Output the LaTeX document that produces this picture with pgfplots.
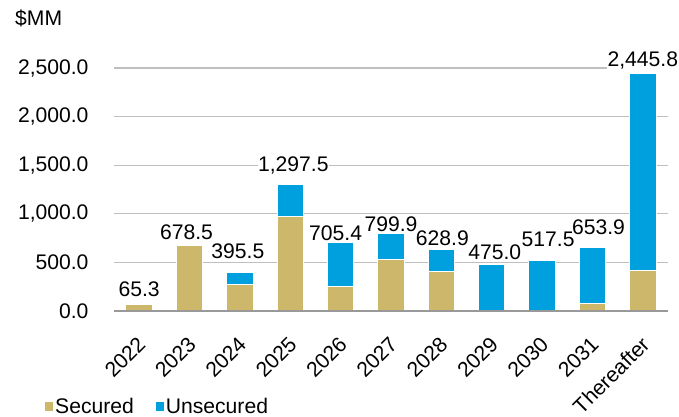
\documentclass[border=0pt]{standalone}
\usepackage{pgfplots}
\pgfplotsset{compat=1.18}
\usepackage{pgfplotstable}
\usepackage{fontspec}
\setmainfont{Liberation Sans}
\definecolor{sec}{HTML}{CDB76B}
\definecolor{unsec}{HTML}{00A0DF}
\definecolor{gridc}{HTML}{BFBFBF}
\newcommand{\chartfont}{\fontsize{21.2}{25}\selectfont}
\pgfplotstableread{
x sec total dx dy
0 65.3 65.3 0 7
1 678.5 678.5 -3 4
2 270 395.5 -2 13
3 970 1297.5 3 10
4 250 705.4 -5 1
5 530 799.9 0 1
6 405 628.9 1 3
7 0 475.0 3 4
8 0 517.5 6 13
9 80 653.9 6 12
10 420 2445.8 0 3
}\data
\begin{document}
\begin{tikzpicture}
\path[use as bounding box] (-114bp,-106bp) rectangle (565bp,311bp);
\begin{axis}[
  at={(0,0)}, anchor=south west,
  scale only axis, width=554bp, height=243bp,
  xmin=-0.5, xmax=10.5, ymin=0, ymax=2500,
  ybar, bar shift=0pt, bar width=26.5bp,
  clip=false,
  font=\chartfont,
  axis x line*=bottom, axis y line*=left,
  x axis line style={draw=none}, y axis line style={draw=none},
  ymajorgrids, major grid style={gridc, line width=1.2bp},
  ytick={0,500,...,2500},
  xtick={0,...,10},
  xticklabels={2022,2023,2024,2025,2026,2027,2028,2029,2030,2031,Thereafter},
  xticklabel style={rotate=45, anchor=north east, inner sep=1bp, yshift=-14bp, xshift=-18bp},
  yticklabel style={xshift=-22bp},
  major tick length=0pt,
  /pgf/number format/.cd, fixed, fixed zerofill, precision=1, 1000 sep={,}, assume math mode=true,
  /pgfplots/.cd,
  legend style={at={(axis description cs:-0.1245,-0.395)}, anchor=west, draw=none, fill=none,
    inner sep=0pt, legend columns=2, font=\chartfont,
    nodes={inner sep=2bp},
    /tikz/every even column/.append style={column sep=20bp}},
  legend image code/.code={\fill[#1] (0bp,-4.5bp) rectangle (8bp,4.5bp);},
]
\addlegendimage{fill=sec, draw=none}
\addlegendimage{fill=unsec, draw=none}
\addplot[forget plot, fill=unsec, draw=white, line width=1bp,
  visualization depends on={\thisrow{dx} \as \labdx},
  visualization depends on={\thisrow{dy} \as \labdy},
  nodes near coords,
  nodes near coords style={font=\chartfont, fill=white, inner sep=0.5bp, anchor=south,
    xshift=\labdx bp, yshift=\labdy bp,
    /pgf/number format/.cd, fixed, fixed zerofill, precision=1, 1000 sep={,}, assume math mode=true},
  ] table[x=x, y=total] {\data};
\addplot[forget plot, fill=sec, draw=white, line width=1bp] table[x=x, y=sec] {\data};
\draw[gray!80, line width=1.5bp] (rel axis cs:0,0) -- (rel axis cs:1,0);
\node[anchor=west, font=\chartfont, inner sep=0pt] at (rel axis cs:-0.1787,1.206) {\$MM};
\legend{Secured, Unsecured}
\end{axis}
\end{tikzpicture}
\end{document}
